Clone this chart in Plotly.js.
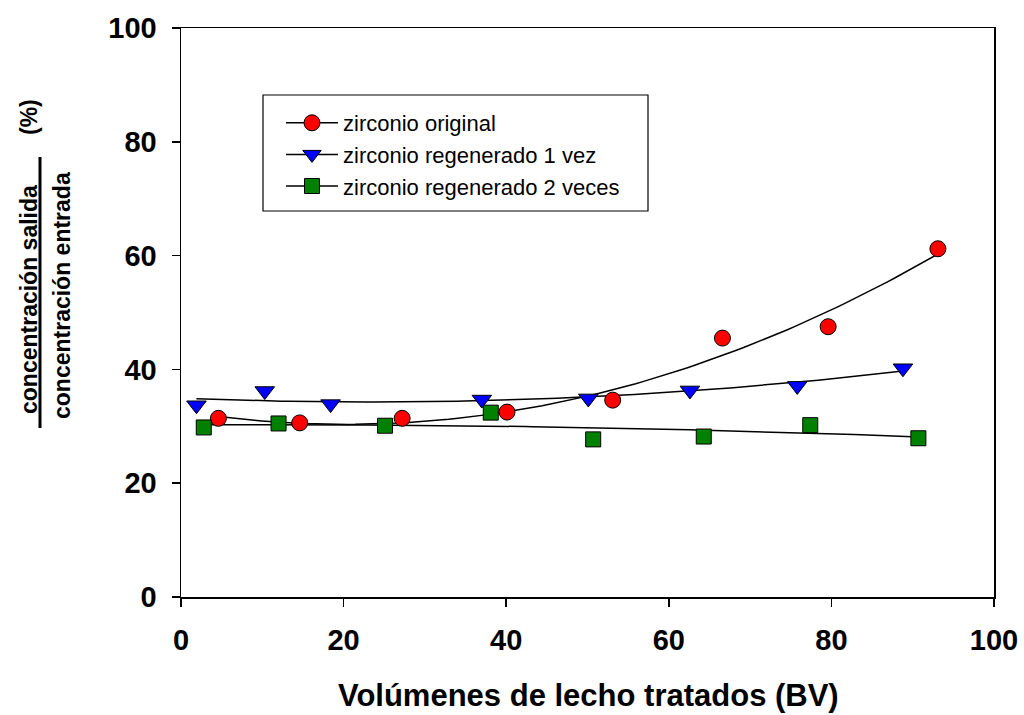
<!DOCTYPE html>
<html>
<head>
<meta charset="utf-8">
<script src="https://cdn.plot.ly/plotly-3.0.1.min.js"></script>
<style>html,body{margin:0;padding:0;background:#fff;}#chart{width:1024px;height:715px;}</style>
</head>
<body>
<div id="chart"></div>
<script>
// ---- data ----
const seriesNames = ["zirconio original", "zirconio regenerado 1 vez", "zirconio regenerado 2 veces"];
const originalX = [4.6, 14.6, 27.2, 40.1, 53.1, 66.6, 79.6, 93.1];
const originalY = [31.4, 30.6, 31.4, 32.5, 34.6, 45.5, 47.5, 61.2];
const regen1X = [1.9, 10.3, 18.4, 37.0, 50.1, 62.6, 75.8, 88.8];
const regen1Y = [33.7, 36.2, 33.9, 34.7, 34.9, 36.3, 37.1, 40.2];
const regen2X = [2.8, 12.0, 25.1, 38.1, 50.7, 64.3, 77.4, 90.7];
const regen2Y = [29.8, 30.5, 30.1, 32.4, 27.7, 28.2, 30.2, 27.9];
const xTicks = [0, 20, 40, 60, 80, 100];
const yTicks = [0, 20, 40, 60, 80, 100];
const xTitle = "Volúmenes de lecho tratados (BV)";
const yTitleTop = "concentración salida";
const yTitleBottom = "concentración entrada";
const yTitleUnit = "(%)";

// quadratic least-squares fit (regression line as in the original)
function quadFit(xs, ys) {
  let S = [0,0,0,0,0], T = [0,0,0];
  for (let i = 0; i < xs.length; i++) {
    let p = 1;
    for (let k = 0; k < 5; k++) { S[k] += p; if (k < 3) T[k] += p * ys[i]; p *= xs[i]; }
  }
  const A = [[S[0],S[1],S[2],T[0]],[S[1],S[2],S[3],T[1]],[S[2],S[3],S[4],T[2]]];
  for (let c = 0; c < 3; c++) {
    for (let r = c + 1; r < 3; r++) {
      const f = A[r][c] / A[c][c];
      for (let k = c; k < 4; k++) A[r][k] -= f * A[c][k];
    }
  }
  const b = [0,0,0];
  for (let r = 2; r >= 0; r--) {
    let s = A[r][3];
    for (let k = r + 1; k < 3; k++) s -= A[r][k] * b[k];
    b[r] = s / A[r][r];
  }
  return b;
}
function fitCurve(xs, ys) {
  const b = quadFit(xs, ys);
  const x0 = Math.min(...xs), x1 = Math.max(...xs);
  const fx = [], fy = [];
  for (let i = 0; i <= 100; i++) {
    const x = x0 + (x1 - x0) * i / 100;
    fx.push(x); fy.push(b[0] + b[1] * x + b[2] * x * x);
  }
  return {x: fx, y: fy};
}

const styles = [
  {color: "#ff0000", symbol: "circle", size: 16},
  {color: "#0000ff", symbol: "triangle-down", size: 17},
  {color: "#008000", symbol: "square", size: 15}
];
const sets = [[originalX, originalY], [regen1X, regen1Y], [regen2X, regen2Y]];

const traces = [];
sets.forEach((s, i) => {
  const f = fitCurve(s[0], s[1]);
  traces.push({x: f.x, y: f.y, mode: "lines", line: {color: "#000", width: 1.5}, showlegend: false, hoverinfo: "skip"});
});
sets.forEach((s, i) => {
  traces.push({x: s[0], y: s[1], mode: "markers", showlegend: false,
    marker: {color: styles[i].color, symbol: styles[i].symbol, size: styles[i].size, line: {color: "#000", width: 1}}});
});
sets.forEach((s, i) => {
  traces.push({x: [null], y: [null], mode: "lines+markers", name: seriesNames[i],
    line: {color: "#000", width: 1.5},
    marker: {color: styles[i].color, symbol: styles[i].symbol, size: styles[i].size, line: {color: "#000", width: 1}}});
});

// plot area in pixels: left 181, right 994, top 28, bottom 597
const L = 181, R = 994, T = 28, B = 597, W = 1024, H = 715;
const px = x => (x - L) / (R - L);
const py = y => (B - y) / (B - T);

const font = {family: "Liberation Sans, Arial, sans-serif", color: "#000"};

const layout = {
  width: W, height: H,
  margin: {l: L, r: W - R, t: T, b: H - B, pad: 0},
  paper_bgcolor: "#fff", plot_bgcolor: "#fff",
  font: font,
  xaxis: {range: [0, 100], tickvals: xTicks, ticks: "outside", ticklen: 8, tickwidth: 1.5, tickcolor: "#000",
    showline: true, linecolor: "#000", linewidth: 1.5, mirror: true, showgrid: false, zeroline: false,
    tickfont: {family: font.family, size: 29, weight: "bold", color: "#000"}, ticklabelstandoff: 9},
  yaxis: {range: [0, 100], tickvals: yTicks, ticks: "outside", ticklen: 8, tickwidth: 1.5, tickcolor: "#000",
    showline: true, linecolor: "#000", linewidth: 1.5, mirror: true, showgrid: false, zeroline: false,
    tickfont: {family: font.family, size: 29, weight: "bold", color: "#000"}, ticklabelstandoff: 9},
  showlegend: true,
  legend: {x: px(281), y: py(102), xanchor: "left", yanchor: "top", bgcolor: "rgba(0,0,0,0)", borderwidth: 0,
    font: {family: font.family, size: 22, color: "#000"}, itemwidth: 52, tracegroupgap: 0},
  shapes: [
    {type: "rect", xref: "paper", yref: "paper", x0: px(263), x1: px(648), y0: py(95), y1: py(211),
      line: {color: "#000", width: 1.2}, fillcolor: "rgba(0,0,0,0)"},
    {type: "line", xref: "paper", yref: "paper", x0: px(40), x1: px(40), y0: py(157), y1: py(428),
      line: {color: "#000", width: 3}}
  ],
  annotations: [
    {text: xTitle, xref: "paper", yref: "paper", x: px(588), y: py(695), xanchor: "center", yanchor: "middle",
      showarrow: false, font: {family: font.family, size: 31, weight: "bold", color: "#000"}},
    {text: yTitleTop, xref: "paper", yref: "paper", x: px(29), y: py(300), xanchor: "center", yanchor: "middle",
      textangle: -90, showarrow: false, font: {family: font.family, size: 23, weight: "bold", color: "#000"}},
    {text: yTitleBottom, xref: "paper", yref: "paper", x: px(62), y: py(296), xanchor: "center", yanchor: "middle",
      textangle: -90, showarrow: false, font: {family: font.family, size: 23, weight: "bold", color: "#000"}},
    {text: yTitleUnit, xref: "paper", yref: "paper", x: px(29), y: py(117), xanchor: "center", yanchor: "middle",
      textangle: -90, showarrow: false, font: {family: font.family, size: 23, weight: "bold", color: "#000"}}
  ]
};

Plotly.newPlot("chart", traces, layout, {displayModeBar: false, staticPlot: true});
</script>
</body>
</html>
